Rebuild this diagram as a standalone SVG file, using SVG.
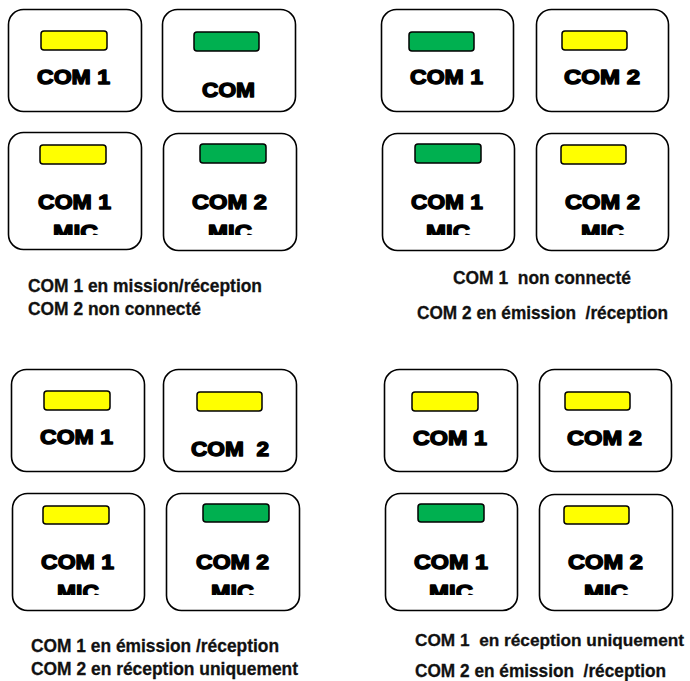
<svg xmlns="http://www.w3.org/2000/svg" width="690" height="681" viewBox="0 0 690 681">
<defs>
<style>
.box{fill:#fff;stroke:#000;stroke-width:1.6}
.y{fill:#FFFF00;stroke:#000;stroke-width:1.5}
.g{fill:#00B050;stroke:#000;stroke-width:1.5}
.lbl{font-family:"Liberation Sans",Arial,sans-serif;font-weight:bold;font-size:21px;fill:#000;stroke:#000;stroke-width:1.4;stroke-linejoin:round;white-space:pre}
.cap{font-family:"Liberation Sans",Arial,sans-serif;font-weight:bold;font-size:18.5px;fill:#111;stroke:#111;stroke-width:0.3;white-space:pre}
</style>
<clipPath id="micclip" clipPathUnits="userSpaceOnUse">
<rect x="0" y="0" width="690" height="235"/>
<rect x="0" y="340" width="690" height="255"/>
</clipPath>
</defs>
<rect width="690" height="681" fill="#fff"/>
<g id="connectors"/>

<!-- Panel A -->
<g id="a-com1">
<rect class="box" x="8.5" y="9.5" width="133" height="102" rx="15"/>
<rect class="y" x="41" y="31" width="66" height="19" rx="3"/>
<text class="lbl" x="37" y="84" textLength="73" lengthAdjust="spacingAndGlyphs">COM 1</text>
</g>
<g id="a-com">
<rect class="box" x="162.5" y="9.5" width="133" height="102" rx="15"/>
<rect class="g" x="194" y="32" width="65" height="19" rx="3"/>
<text class="lbl" x="202" y="97" textLength="53" lengthAdjust="spacingAndGlyphs">COM</text>
</g>
<g id="a-com1mic">
<rect class="box" x="8.5" y="132.5" width="133" height="117" rx="15"/>
<rect class="y" x="40" y="145" width="66" height="19" rx="3"/>
<text class="lbl" x="38" y="209" textLength="73" lengthAdjust="spacingAndGlyphs">COM 1</text>
<text class="lbl" x="53" y="239" textLength="45" lengthAdjust="spacingAndGlyphs" clip-path="url(#micclip)">MIC</text>
</g>
<g id="a-com2mic">
<rect class="box" x="163.5" y="133.5" width="133" height="117" rx="15"/>
<rect class="g" x="200" y="144" width="66" height="19" rx="3"/>
<text class="lbl" x="192" y="209" textLength="75" lengthAdjust="spacingAndGlyphs">COM 2</text>
<text class="lbl" x="208" y="239" textLength="44" lengthAdjust="spacingAndGlyphs" clip-path="url(#micclip)">MIC</text>
</g>
<g id="a-caption">
<text class="cap" x="28" y="292" textLength="234" lengthAdjust="spacingAndGlyphs">COM 1 en mission/réception</text>
<text class="cap" x="28" y="315" textLength="173" lengthAdjust="spacingAndGlyphs">COM 2 non connecté</text>
</g>

<!-- Panel B -->
<g id="b-com1">
<rect class="box" x="381.5" y="9.5" width="132" height="102" rx="15"/>
<rect class="g" x="409" y="32" width="65" height="19" rx="3"/>
<text class="lbl" x="410" y="84" textLength="73" lengthAdjust="spacingAndGlyphs">COM 1</text>
</g>
<g id="b-com2">
<rect class="box" x="536.5" y="9.5" width="132" height="102" rx="15"/>
<rect class="y" x="562" y="31" width="65" height="19" rx="3"/>
<text class="lbl" x="564" y="84" textLength="76" lengthAdjust="spacingAndGlyphs">COM 2</text>
</g>
<g id="b-com1mic">
<rect class="box" x="382.5" y="133.5" width="132" height="117" rx="15"/>
<rect class="g" x="415" y="144" width="66" height="19" rx="3"/>
<text class="lbl" x="411" y="209" textLength="72" lengthAdjust="spacingAndGlyphs">COM 1</text>
<text class="lbl" x="426" y="239" textLength="44" lengthAdjust="spacingAndGlyphs" clip-path="url(#micclip)">MIC</text>
</g>
<g id="b-com2mic">
<rect class="box" x="536.5" y="133.5" width="132" height="117" rx="15"/>
<rect class="y" x="561" y="145" width="65" height="19" rx="3"/>
<text class="lbl" x="565" y="209" textLength="75" lengthAdjust="spacingAndGlyphs">COM 2</text>
<text class="lbl" x="581" y="239" textLength="43" lengthAdjust="spacingAndGlyphs" clip-path="url(#micclip)">MIC</text>
</g>
<g id="b-caption">
<text class="cap" x="453" y="284" textLength="178" lengthAdjust="spacingAndGlyphs">COM 1  non connecté</text>
<text class="cap" x="417" y="319" textLength="251" lengthAdjust="spacingAndGlyphs">COM 2 en émission  /réception</text>
</g>

<!-- Panel C -->
<g id="c-com1">
<rect class="box" x="11.5" y="369.5" width="133" height="102" rx="15"/>
<rect class="y" x="44" y="391" width="66" height="19" rx="3"/>
<text class="lbl" x="40" y="444" textLength="73" lengthAdjust="spacingAndGlyphs">COM 1</text>
</g>
<g id="c-com2">
<rect class="box" x="163.5" y="369.5" width="133" height="102" rx="15"/>
<rect class="y" x="197" y="392" width="65" height="19" rx="3"/>
<text class="lbl" x="191" y="456" textLength="78" lengthAdjust="spacingAndGlyphs">COM  2</text>
</g>
<g id="c-com1mic">
<rect class="box" x="12.5" y="493.5" width="132" height="117" rx="15"/>
<rect class="y" x="43" y="506" width="66" height="18" rx="3"/>
<text class="lbl" x="41" y="569" textLength="73" lengthAdjust="spacingAndGlyphs">COM 1</text>
<text class="lbl" x="57" y="599" textLength="42" lengthAdjust="spacingAndGlyphs" clip-path="url(#micclip)">MIC</text>
</g>
<g id="c-com2mic">
<rect class="box" x="166.5" y="493.5" width="133" height="117" rx="15"/>
<rect class="g" x="203" y="504" width="66" height="18" rx="3"/>
<text class="lbl" x="196" y="569" textLength="73" lengthAdjust="spacingAndGlyphs">COM 2</text>
<text class="lbl" x="211" y="599" textLength="43" lengthAdjust="spacingAndGlyphs" clip-path="url(#micclip)">MIC</text>
</g>
<g id="c-caption">
<text class="cap" x="31" y="652" textLength="248" lengthAdjust="spacingAndGlyphs">COM 1 en émission /réception</text>
<text class="cap" x="31" y="675" textLength="267" lengthAdjust="spacingAndGlyphs">COM 2 en réception uniquement</text>
</g>

<!-- Panel D -->
<g id="d-com1">
<rect class="box" x="384.5" y="369.5" width="133" height="102" rx="15"/>
<rect class="y" x="412" y="392" width="66" height="19" rx="3"/>
<text class="lbl" x="413" y="445" textLength="74" lengthAdjust="spacingAndGlyphs">COM 1</text>
</g>
<g id="d-com2">
<rect class="box" x="539.5" y="369.5" width="132" height="102" rx="15"/>
<rect class="y" x="565" y="392" width="65" height="18" rx="3"/>
<text class="lbl" x="567" y="445" textLength="75" lengthAdjust="spacingAndGlyphs">COM 2</text>
</g>
<g id="d-com1mic">
<rect class="box" x="385.5" y="493.5" width="132" height="117" rx="15"/>
<rect class="g" x="418" y="504" width="66" height="18" rx="3"/>
<text class="lbl" x="414" y="569" textLength="74" lengthAdjust="spacingAndGlyphs">COM 1</text>
<text class="lbl" x="429" y="599" textLength="44" lengthAdjust="spacingAndGlyphs" clip-path="url(#micclip)">MIC</text>
</g>
<g id="d-com2mic">
<rect class="box" x="539.5" y="494.5" width="133" height="116" rx="15"/>
<rect class="y" x="564" y="506" width="65" height="18" rx="3"/>
<text class="lbl" x="568" y="569" textLength="75" lengthAdjust="spacingAndGlyphs">COM 2</text>
<text class="lbl" x="584" y="599" textLength="44" lengthAdjust="spacingAndGlyphs" clip-path="url(#micclip)">MIC</text>
</g>
<g id="d-caption">
<text class="cap" x="415" y="646" style="font-size:17px" textLength="269" lengthAdjust="spacingAndGlyphs">COM 1  en réception uniquement</text>
<text class="cap" x="415" y="677" textLength="251" lengthAdjust="spacingAndGlyphs">COM 2 en émission  /réception</text>
</g>
</svg>
